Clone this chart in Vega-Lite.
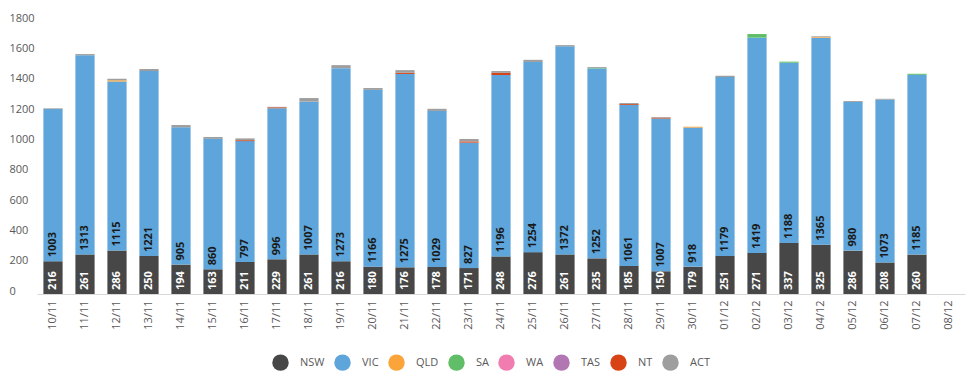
{
  "$schema": "https://vega.github.io/schema/vega-lite/v6.json",
  "autosize": {"type": "none"},
  "width": 928,
  "height": 273,
  "padding": {"left": 37, "top": 21, "right": 10, "bottom": 86},
  "background": "white",
  "config": {"view": {"stroke": null}, "font": "Open Sans", "axisY": {"labelOverlap": false, "labelFlush": false}},
  "datasets": {
    "states": [
      {"state": "NSW", "rank": 1}, {"state": "VIC", "rank": 2}, {"state": "QLD", "rank": 3}, {"state": "SA", "rank": 4},
      {"state": "WA", "rank": 5}, {"state": "TAS", "rank": 6}, {"state": "NT", "rank": 7}, {"state": "ACT", "rank": 8}
    ],
    "cases": [
      {"date": "10/11", "state": "NSW", "n": 216}, {"date": "10/11", "state": "VIC", "n": 1003}, {"date": "10/11", "state": "ACT", "n": 5},
      {"date": "11/11", "state": "NSW", "n": 261}, {"date": "11/11", "state": "VIC", "n": 1313}, {"date": "11/11", "state": "ACT", "n": 8},
      {"date": "12/11", "state": "NSW", "n": 286}, {"date": "12/11", "state": "VIC", "n": 1115}, {"date": "12/11", "state": "QLD", "n": 8}, {"date": "12/11", "state": "ACT", "n": 10},
      {"date": "13/11", "state": "NSW", "n": 250}, {"date": "13/11", "state": "VIC", "n": 1221}, {"date": "13/11", "state": "ACT", "n": 12},
      {"date": "14/11", "state": "NSW", "n": 194}, {"date": "14/11", "state": "VIC", "n": 905}, {"date": "14/11", "state": "ACT", "n": 15},
      {"date": "15/11", "state": "NSW", "n": 163}, {"date": "15/11", "state": "VIC", "n": 860}, {"date": "15/11", "state": "ACT", "n": 12},
      {"date": "16/11", "state": "NSW", "n": 211}, {"date": "16/11", "state": "VIC", "n": 797}, {"date": "16/11", "state": "NT", "n": 6}, {"date": "16/11", "state": "ACT", "n": 12},
      {"date": "17/11", "state": "NSW", "n": 229}, {"date": "17/11", "state": "VIC", "n": 996}, {"date": "17/11", "state": "NT", "n": 6}, {"date": "17/11", "state": "ACT", "n": 3},
      {"date": "18/11", "state": "NSW", "n": 261}, {"date": "18/11", "state": "VIC", "n": 1007}, {"date": "18/11", "state": "ACT", "n": 24},
      {"date": "19/11", "state": "NSW", "n": 216}, {"date": "19/11", "state": "VIC", "n": 1273}, {"date": "19/11", "state": "ACT", "n": 20},
      {"date": "20/11", "state": "NSW", "n": 180}, {"date": "20/11", "state": "VIC", "n": 1166}, {"date": "20/11", "state": "ACT", "n": 12},
      {"date": "21/11", "state": "NSW", "n": 176}, {"date": "21/11", "state": "VIC", "n": 1275}, {"date": "21/11", "state": "NT", "n": 8}, {"date": "21/11", "state": "ACT", "n": 17},
      {"date": "22/11", "state": "NSW", "n": 178}, {"date": "22/11", "state": "VIC", "n": 1029}, {"date": "22/11", "state": "ACT", "n": 14},
      {"date": "23/11", "state": "NSW", "n": 171}, {"date": "23/11", "state": "VIC", "n": 827}, {"date": "23/11", "state": "NT", "n": 8}, {"date": "23/11", "state": "ACT", "n": 16},
      {"date": "24/11", "state": "NSW", "n": 248}, {"date": "24/11", "state": "VIC", "n": 1196}, {"date": "24/11", "state": "NT", "n": 14}, {"date": "24/11", "state": "ACT", "n": 12},
      {"date": "25/11", "state": "NSW", "n": 276}, {"date": "25/11", "state": "VIC", "n": 1254}, {"date": "25/11", "state": "ACT", "n": 14},
      {"date": "26/11", "state": "NSW", "n": 261}, {"date": "26/11", "state": "VIC", "n": 1372}, {"date": "26/11", "state": "ACT", "n": 8},
      {"date": "27/11", "state": "NSW", "n": 235}, {"date": "27/11", "state": "VIC", "n": 1252}, {"date": "27/11", "state": "SA", "n": 3}, {"date": "27/11", "state": "ACT", "n": 6},
      {"date": "28/11", "state": "NSW", "n": 185}, {"date": "28/11", "state": "VIC", "n": 1061}, {"date": "28/11", "state": "NT", "n": 6}, {"date": "28/11", "state": "ACT", "n": 7},
      {"date": "29/11", "state": "NSW", "n": 150}, {"date": "29/11", "state": "VIC", "n": 1007}, {"date": "29/11", "state": "NT", "n": 6}, {"date": "29/11", "state": "ACT", "n": 4},
      {"date": "30/11", "state": "NSW", "n": 179}, {"date": "30/11", "state": "VIC", "n": 918}, {"date": "30/11", "state": "QLD", "n": 6},
      {"date": "01/12", "state": "NSW", "n": 251}, {"date": "01/12", "state": "VIC", "n": 1179}, {"date": "01/12", "state": "ACT", "n": 9},
      {"date": "02/12", "state": "NSW", "n": 271}, {"date": "02/12", "state": "VIC", "n": 1419}, {"date": "02/12", "state": "SA", "n": 24},
      {"date": "03/12", "state": "NSW", "n": 337}, {"date": "03/12", "state": "VIC", "n": 1188}, {"date": "03/12", "state": "SA", "n": 7},
      {"date": "04/12", "state": "NSW", "n": 325}, {"date": "04/12", "state": "VIC", "n": 1365}, {"date": "04/12", "state": "QLD", "n": 6}, {"date": "04/12", "state": "ACT", "n": 4},
      {"date": "05/12", "state": "NSW", "n": 286}, {"date": "05/12", "state": "VIC", "n": 980}, {"date": "05/12", "state": "ACT", "n": 6},
      {"date": "06/12", "state": "NSW", "n": 208}, {"date": "06/12", "state": "VIC", "n": 1073}, {"date": "06/12", "state": "ACT", "n": 6},
      {"date": "07/12", "state": "NSW", "n": 260}, {"date": "07/12", "state": "VIC", "n": 1185}, {"date": "07/12", "state": "SA", "n": 7}
    ]
  },
  "data": {"name": "cases"},
  "transform": [
    {"lookup": "state", "from": {"data": {"name": "states"}, "key": "state", "fields": ["rank"]}},
    {"stack": "n", "groupby": ["date"], "sort": [{"field": "rank", "order": "ascending"}], "as": ["y0", "y1"]}
  ],
  "encoding": {
    "x": {
      "field": "date",
      "type": "nominal",
      "sort": null,
      "scale": {
        "domain": ["10/11","11/11","12/11","13/11","14/11","15/11","16/11","17/11","18/11","19/11","20/11","21/11","22/11","23/11","24/11","25/11","26/11","27/11","28/11","29/11","30/11","01/12","02/12","03/12","04/12","05/12","06/12","07/12","08/12"],
        "paddingInner": 0.4,
        "paddingOuter": 0.2
      },
      "axis": {
        "title": null,
        "labelAngle": -90,
        "labelPadding": 6,
        "ticks": false,
        "domainColor": "#d9d9d9",
        "domainWidth": 1,
        "labelColor": "#595959",
        "labelFontSize": 11,
        "labelFont": "Open Sans",
        "grid": false
      }
    },
    "y": {
      "field": "y0",
      "type": "quantitative",
      "scale": {"domain": [0, 1800], "nice": false},
      "axis": {
        "title": null,
        "values": [0, 200, 400, 600, 800, 1000, 1200, 1400, 1600, 1800],
        "format": "d",
        "labelOverlap": false,
        "labelFlush": false,
        "domain": false,
        "ticks": false,
        "grid": false,
        "labelAlign": "left",
        "labelPadding": 28,
        "labelBaseline": "alphabetic",
        "labelColor": "#595959",
        "labelFontSize": 11,
        "labelFont": "Open Sans"
      }
    }
  },
  "layer": [
    {
      "mark": {"type": "bar"},
      "encoding": {
        "y2": {"field": "y1"},
        "color": {
          "field": "state",
          "type": "nominal",
          "scale": {
            "domain": ["NSW", "VIC", "QLD", "SA", "WA", "TAS", "NT", "ACT"],
            "range": ["#474747", "#5DA5DA", "#FAA43A", "#60BD68", "#F17CB0", "#B276B2", "#D84315", "#9E9E9E"]
          },
          "legend": {
            "title": null,
            "orient": "none",
            "legendX": 235,
            "legendY": 333,
            "direction": "horizontal",
            "padding": 0,
            "symbolType": "circle",
            "symbolSize": 270,
            "symbolStrokeWidth": 0,
            "labelOffset": 11,
            "columnPadding": 9,
            "labelColor": "#595959",
            "labelFontSize": 11,
            "labelFont": "Open Sans"
          }
        }
      }
    },
    {
      "transform": [{"filter": "datum.state === 'NSW'"}],
      "mark": {"type": "text", "angle": 270, "align": "left", "baseline": "middle", "dx": 4, "color": "white", "fontSize": 11, "fontWeight": "bold", "font": "Open Sans"},
      "encoding": {
        "text": {"field": "n", "type": "quantitative"}
      }
    },
    {
      "transform": [{"filter": "datum.state === 'VIC'"}],
      "mark": {"type": "text", "angle": 270, "align": "left", "baseline": "middle", "dx": 4, "color": "#1a1a1a", "fontSize": 11, "fontWeight": "bold", "font": "Open Sans"},
      "encoding": {
        "text": {"field": "n", "type": "quantitative"}
      }
    }
  ]
}
